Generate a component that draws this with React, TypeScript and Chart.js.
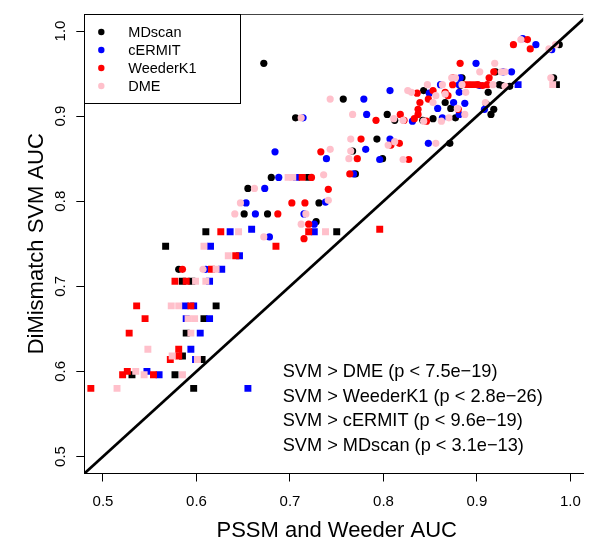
import React, { useEffect, useRef } from 'react';
import { Chart, registerables } from 'chart.js';

Chart.register(...registerables);

const FONT = '"Liberation Sans", Arial, Helvetica, sans-serif';

type P = [number, number];

// MDscan (black)
const mdscanCircles: P[] = [
  [0.672, 0.962], [0.706, 0.898], [0.988, 0.984], [0.920, 0.952], [0.884, 0.945], [0.982, 0.945],
  [0.882, 0.936], [0.924, 0.937], [0.927, 0.936], [0.935, 0.935], [0.843, 0.930], [0.912, 0.928],
  [0.757, 0.920], [0.866, 0.916], [0.910, 0.914], [0.872, 0.909], [0.918, 0.908], [0.804, 0.902],
  [0.812, 0.895], [0.842, 0.895], [0.853, 0.897], [0.877, 0.898], [0.915, 0.902], [0.793, 0.873],
  [0.871, 0.868], [0.767, 0.859], [0.799, 0.850], [0.770, 0.832], [0.680, 0.828], [0.655, 0.815],
  [0.731, 0.798], [0.651, 0.785], [0.676, 0.785], [0.728, 0.776], [0.581, 0.720],
];
const mdscanSquares: P[] = [
  [0.985, 0.937], [0.750, 0.764], [0.720, 0.828], [0.610, 0.764], [0.567, 0.747], [0.585, 0.706],
  [0.595, 0.706], [0.621, 0.677], [0.608, 0.662], [0.589, 0.645], [0.585, 0.618], [0.606, 0.614],
  [0.531, 0.596], [0.577, 0.596], [0.597, 0.580],
];

// cERMIT (blue)
const cermitCircles: P[] = [
  [0.714, 0.898], [0.684, 0.858], [0.739, 0.850], [0.949, 0.991], [0.963, 0.984], [0.980, 0.978],
  [0.899, 0.962], [0.928, 0.952], [0.937, 0.952], [0.882, 0.945], [0.861, 0.937], [0.881, 0.937],
  [0.903, 0.936], [0.807, 0.930], [0.849, 0.927], [0.881, 0.928], [0.779, 0.920], [0.875, 0.916],
  [0.887, 0.915], [0.858, 0.909], [0.908, 0.908], [0.782, 0.902], [0.831, 0.894], [0.863, 0.898],
  [0.881, 0.902], [0.807, 0.873], [0.848, 0.868], [0.781, 0.861], [0.796, 0.849], [0.768, 0.832],
  [0.738, 0.799], [0.688, 0.828], [0.673, 0.815], [0.653, 0.798], [0.663, 0.785], [0.715, 0.785],
  [0.726, 0.773], [0.678, 0.758], [0.610, 0.720],
];
const cermitSquares: P[] = [
  [0.944, 0.937], [0.707, 0.828], [0.636, 0.764], [0.659, 0.767], [0.726, 0.764], [0.615, 0.747],
  [0.646, 0.736], [0.627, 0.720], [0.614, 0.706], [0.588, 0.677], [0.597, 0.677], [0.589, 0.662],
  [0.614, 0.662], [0.604, 0.645], [0.594, 0.626], [0.599, 0.614], [0.547, 0.600], [0.560, 0.596],
  [0.655, 0.580],
];

// WeederK1 (red)
const weederCircles: P[] = [
  [0.733, 0.858], [0.954, 0.990], [0.939, 0.984], [0.957, 0.979], [0.882, 0.962], [0.918, 0.952],
  [0.913, 0.945], [0.874, 0.945], [0.874, 0.937], [0.901, 0.937], [0.906, 0.936], [0.911, 0.937],
  [0.836, 0.927], [0.853, 0.930], [0.866, 0.928], [0.869, 0.924], [0.839, 0.916], [0.848, 0.920],
  [0.880, 0.908], [0.837, 0.908], [0.837, 0.902], [0.792, 0.895], [0.818, 0.902], [0.822, 0.895],
  [0.833, 0.897], [0.846, 0.894], [0.776, 0.873], [0.808, 0.866], [0.817, 0.868], [0.772, 0.850],
  [0.827, 0.849], [0.764, 0.832], [0.741, 0.814], [0.723, 0.828], [0.702, 0.798], [0.716, 0.798],
  [0.687, 0.785], [0.720, 0.773], [0.715, 0.756], [0.585, 0.720],
];
const weederSquares: P[] = [
  [0.889, 0.937], [0.896, 0.937], [0.796, 0.767], [0.713, 0.828], [0.626, 0.764], [0.720, 0.764],
  [0.685, 0.747], [0.642, 0.736], [0.616, 0.720], [0.577, 0.706], [0.589, 0.706], [0.536, 0.677],
  [0.594, 0.677], [0.545, 0.662], [0.528, 0.645], [0.581, 0.626], [0.581, 0.618], [0.572, 0.614],
  [0.526, 0.600], [0.521, 0.596], [0.554, 0.596], [0.487, 0.580],
];

// DME (pink)
const dmeCircles: P[] = [
  [0.743, 0.920], [0.712, 0.898], [0.743, 0.861], [0.736, 0.831], [0.947, 0.990], [0.977, 0.979],
  [0.984, 0.984], [0.919, 0.962], [0.903, 0.952], [0.926, 0.952], [0.930, 0.952], [0.873, 0.945],
  [0.877, 0.945], [0.979, 0.945], [0.847, 0.937], [0.863, 0.937], [0.884, 0.937], [0.917, 0.937],
  [0.930, 0.935], [0.826, 0.930], [0.830, 0.928], [0.856, 0.924], [0.866, 0.926], [0.888, 0.928],
  [0.853, 0.916], [0.909, 0.916], [0.879, 0.909], [0.767, 0.902], [0.811, 0.897], [0.821, 0.895],
  [0.843, 0.894], [0.862, 0.894], [0.870, 0.898], [0.887, 0.902], [0.765, 0.873], [0.812, 0.870],
  [0.805, 0.866], [0.856, 0.868], [0.765, 0.859], [0.763, 0.850], [0.821, 0.849], [0.741, 0.801],
  [0.662, 0.815], [0.647, 0.798], [0.641, 0.785], [0.717, 0.785], [0.712, 0.773], [0.672, 0.758],
  [0.607, 0.720],
];
const dmeSquares: P[] = [
  [0.981, 0.937], [0.698, 0.828], [0.703, 0.828], [0.645, 0.764], [0.738, 0.764], [0.608, 0.747],
  [0.634, 0.736], [0.621, 0.720], [0.599, 0.706], [0.610, 0.706], [0.573, 0.677], [0.581, 0.677],
  [0.591, 0.662], [0.598, 0.662], [0.594, 0.645], [0.548, 0.626], [0.574, 0.618], [0.601, 0.614],
  [0.535, 0.600], [0.544, 0.596], [0.585, 0.596], [0.515, 0.580],
];

const methods = ['MDscan', 'cERMIT', 'WeederK1', 'DME'];
const methodColors = ['#000000', '#0000FF', '#FF0000', '#FFC0CB'];
const tickValues = [0.5, 0.6, 0.7, 0.8, 0.9, 1.0];
const axisRange = [0.48, 1.02];
const xAxisMax = 1.0137;
const annotations = [
  'SVM > DME (p < 7.5e\u221219)',
  'SVM > WeederK1 (p < 2.8e\u221226)',
  'SVM > cERMIT (p < 9.6e\u221219)',
  'SVM > MDscan (p < 3.1e\u221213)',
];
const xTitle = 'PSSM and Weeder AUC';
const yTitle = 'DiMismatch SVM AUC';

const toXY = (arr: P[]) => arr.map(([x, y]) => ({ x, y }));

const overlay = {
  id: 'overlay',
  afterDraw(chart: any) {
    const { ctx, chartArea, scales } = chart;
    const xs = scales.x;
    const ys = scales.y;
    ctx.save();
    // top frame line
    ctx.strokeStyle = '#444';
    ctx.lineWidth = 1;
    ctx.beginPath();
    ctx.moveTo(chartArea.left, Math.round(chartArea.top) + 0.5);
    ctx.lineTo(chartArea.right, Math.round(chartArea.top) + 0.5);
    ctx.stroke();

    // rotated y tick labels
    ctx.fillStyle = '#000';
    ctx.font = `15px ${FONT}`;
    ctx.textAlign = 'center';
    ctx.textBaseline = 'middle';
    tickValues.forEach((v) => {
      const py = ys.getPixelForValue(v);
      ctx.save();
      ctx.translate(61, py);
      ctx.rotate(-Math.PI / 2);
      ctx.fillText(v.toFixed(1), 0, 0);
      ctx.restore();
    });

    // axis titles
    ctx.font = `22px ${FONT}`;
    ctx.fillText(xTitle, xs.getPixelForValue((axisRange[0] + axisRange[1]) / 2), 531);
    ctx.save();
    ctx.translate(37, ys.getPixelForValue((axisRange[0] + axisRange[1]) / 2));
    ctx.rotate(-Math.PI / 2);
    ctx.fillText(yTitle, 0, 0);
    ctx.restore();

    // legend
    const lx = chartArea.left;
    const ly = chartArea.top;
    ctx.strokeStyle = '#000';
    ctx.lineWidth = 1;
    ctx.strokeRect(Math.round(lx) + 0.5, Math.round(ly) + 0.5, 156, 89);
    ctx.font = `14.5px ${FONT}`;
    ctx.textAlign = 'left';
    methods.forEach((m, i) => {
      const cy = ly + 18 + i * 18;
      ctx.fillStyle = methodColors[i];
      ctx.beginPath();
      ctx.arc(lx + 17, cy, 3.2, 0, Math.PI * 2);
      ctx.fill();
      ctx.fillStyle = '#000';
      ctx.fillText(m, lx + 44, cy + 1);
    });

    // annotations
    ctx.font = `18.2px ${FONT}`;
    annotations.forEach((t, i) => {
      ctx.fillText(t, 282.7, 372 + i * 24.7);
    });
    ctx.restore();
  },
};

export default function App() {
  const ref = useRef<HTMLCanvasElement | null>(null);
  useEffect(() => {
    if (!ref.current) return;
    Chart.defaults.font.family = FONT;
    const circleR = 3.6;
    const squareR = 4.9;
    const groups: [P[], P[]][] = [
      [mdscanCircles, mdscanSquares],
      [cermitCircles, cermitSquares],
      [weederCircles, weederSquares],
      [dmeCircles, dmeSquares],
    ];
    const datasets: any[] = [];
    groups.forEach(([circ, sq], i) => {
      const order = 4 - i + 1;
      datasets.push({
        label: methods[i],
        data: toXY(circ),
        pointStyle: 'circle',
        pointRadius: circleR,
        pointBorderWidth: 0,
        backgroundColor: methodColors[i],
        borderColor: methodColors[i],
        showLine: false,
        order,
      });
      datasets.push({
        label: methods[i] + ' (set 2)',
        data: toXY(sq),
        pointStyle: 'rect',
        pointRadius: squareR,
        pointBorderWidth: 0,
        backgroundColor: methodColors[i],
        borderColor: methodColors[i],
        showLine: false,
        order,
      });
    });
    datasets.push({
      type: 'line',
      label: 'y = x',
      data: [
        { x: axisRange[0], y: axisRange[0] },
        { x: axisRange[1], y: axisRange[1] },
      ],
      borderColor: '#000',
      borderWidth: 2.8,
      pointRadius: 0,
      showLine: true,
      order: 0,
    });

    const chart = new Chart(ref.current, {
      type: 'scatter',
      data: { datasets },
      options: {
        animation: false,
        responsive: false,
        devicePixelRatio: 1,
        events: [],
        layout: { padding: { top: 14, right: 0, left: 0, bottom: 0 } },
        plugins: { legend: { display: false }, tooltip: { enabled: false } },
        scales: {
          x: {
            type: 'linear',
            min: axisRange[0],
            max: xAxisMax,
            afterBuildTicks: (s: any) => {
              s.ticks = tickValues.map((v) => ({ value: v }));
            },
            afterFit: (s: any) => {
              s.height = 70.5;
            },
            grid: {
              display: true,
              drawOnChartArea: false,
              drawTicks: true,
              tickLength: 8,
              color: '#000',
              lineWidth: 1,
            },
            border: { display: true, color: '#000', width: 1 },
            ticks: {
              color: '#000',
              font: { size: 15, family: FONT },
              padding: 11,
              maxRotation: 0,
              minRotation: 0,
              callback: (v: any) => Number(v).toFixed(1),
            },
          },
          y: {
            type: 'linear',
            min: axisRange[0],
            max: axisRange[1],
            afterBuildTicks: (s: any) => {
              s.ticks = tickValues.map((v) => ({ value: v }));
            },
            afterFit: (s: any) => {
              s.width = 84.3;
            },
            grid: {
              display: true,
              drawOnChartArea: false,
              drawTicks: true,
              tickLength: 8,
              color: '#000',
              lineWidth: 1,
            },
            border: { display: true, color: '#000', width: 1 },
            ticks: { display: false },
          },
        },
      },
      plugins: [overlay],
    } as any);
    return () => chart.destroy();
  }, []);

  return (
    <div
      style={{
        position: 'fixed',
        left: 0,
        top: 0,
        width: 592,
        height: 544,
        overflow: 'hidden',
        background: '#fff',
      }}
    >
      <canvas ref={ref} width={592} height={544} style={{ width: 592, height: 544, display: 'block' }} />
    </div>
  );
}
